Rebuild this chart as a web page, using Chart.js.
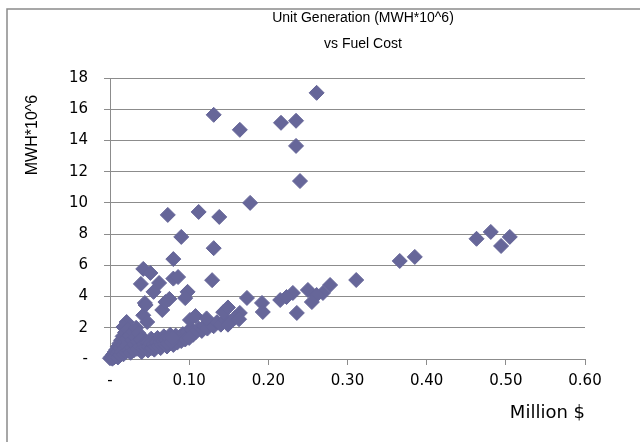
<!DOCTYPE html>
<html lang="en">
<head>
  <meta charset="UTF-8">
  <title>Unit Generation vs Fuel Cost</title>
  <script src="https://cdn.jsdelivr.net/npm/chart.js"></script>
  <style>
    html, body {
      margin: 0;
      padding: 0;
      background: white;
    }
    #wrap {
      width: 640px;
      height: 442px;
      position: relative;
    }
  </style>
</head>
<body>
  <div id="wrap"><canvas id="genChart"></canvas></div>

  <script>
    // fuel cost per unit (million $) and generation (MWH*10^6)
    const fuelCost = [
      // upper branch / outliers
      0.261, 0.131, 0.164, 0.216, 0.235, 0.235, 0.240, 0.177, 0.073, 0.112,
      0.138, 0.090, 0.131, 0.080, 0.129, 0.042, 0.051, 0.062, 0.039, 0.080,
      0.086, 0.098, 0.095, 0.075, 0.044, 0.066, 0.042, 0.047, 0.021, 0.017,
      0.045, 0.070, 0.055,
      // lower branch, right side
      0.173, 0.192, 0.193, 0.164, 0.215, 0.236, 0.231, 0.250, 0.269, 0.278,
      0.223, 0.261, 0.255, 0.311, 0.366, 0.385, 0.463, 0.481, 0.494, 0.505,
      // lower branch, middle
      0.080, 0.083, 0.086, 0.089, 0.092, 0.095, 0.098, 0.101, 0.104, 0.108,
      0.112, 0.116, 0.119, 0.123, 0.127, 0.131, 0.135, 0.140, 0.146, 0.152,
      0.158, 0.163, 0.101, 0.108, 0.122, 0.143, 0.149, 0.149, 0.105,
      0.040, 0.044, 0.048, 0.052, 0.056, 0.060, 0.064, 0.068, 0.072, 0.076,
      0.080, 0.085, 0.090, 0.095, 0.100,
      0.042, 0.046, 0.050, 0.054, 0.058, 0.062, 0.066, 0.070, 0.074, 0.078,
      // small units near the origin
      0.000, 0.002, 0.003, 0.004, 0.005, 0.006, 0.007, 0.008, 0.009, 0.010,
      0.010, 0.011, 0.012, 0.013, 0.013, 0.014, 0.015, 0.016, 0.016, 0.017,
      0.018, 0.018, 0.019, 0.020, 0.021, 0.021, 0.022, 0.023, 0.024, 0.025,
      0.026, 0.027, 0.028, 0.029, 0.030, 0.031, 0.032, 0.033, 0.034, 0.035,
      0.036, 0.038, 0.039, 0.041, 0.043, 0.045, 0.047, 0.049, 0.051, 0.053,
      0.055, 0.057, 0.059, 0.061, 0.063, 0.065, 0.067, 0.069, 0.071, 0.073,
      0.075, 0.077, 0.079
    ];
    const generation = [
      17.05, 15.64, 14.68, 15.13, 15.26, 13.65, 11.40, 10.00, 9.23, 9.42,
      9.10, 7.82, 7.10, 6.40, 5.05, 5.77, 5.51, 4.87, 4.81, 5.15,
      5.25, 4.30, 3.90, 3.85, 3.59, 3.14, 2.80, 2.37, 2.37, 2.05,
      3.46, 3.65, 4.30,
      3.91, 3.59, 3.01, 2.95, 3.78, 2.95, 4.23, 4.42, 4.23, 4.74,
      3.97, 4.10, 3.65, 5.06, 6.28, 6.54, 7.70, 8.14, 7.24, 7.82,
      1.30, 1.50, 1.20, 1.45, 1.60, 1.40, 1.75, 1.55, 1.85, 1.70,
      1.95, 1.80, 2.10, 1.95, 2.25, 2.10, 2.35, 2.20, 2.50, 2.40,
      2.65, 2.55, 2.50, 2.75, 2.60, 3.00, 3.30, 2.20, 1.55,
      0.45, 1.20, 0.55, 1.30, 0.60, 1.35, 0.70, 1.45, 0.80, 1.55,
      0.90, 1.05, 1.15, 1.25, 1.35,
      0.85, 0.90, 0.95, 1.00, 1.05, 1.10, 1.10, 1.15, 1.20, 1.25,
      0.05, 0.15, 0.02, 0.30, 0.10, 0.45, 0.20, 0.60, 0.35, 0.10,
      0.80, 0.50, 1.00, 0.25, 0.70, 1.20, 0.45, 0.90, 1.45, 0.30,
      0.65, 1.10, 1.70, 0.45, 0.85, 1.30, 1.90, 0.55, 1.05, 1.50,
      0.40, 0.75, 1.20, 1.75, 0.55, 0.95, 1.40, 2.00, 0.65, 1.10,
      1.65, 0.80, 1.25, 0.65, 0.95, 0.75, 1.05, 0.80, 1.00, 0.70,
      0.95, 0.80, 1.05, 0.85, 1.10, 0.90, 1.15, 0.95, 1.20, 1.00,
      1.30, 1.10, 1.35
    ];
    const xTicks = [0, 0.1, 0.2, 0.3, 0.4, 0.5, 0.6];
    const yTicks = [0, 2, 4, 6, 8, 10, 12, 14, 16, 18];
    const titleLines = ['Unit Generation (MWH*10^6)', 'vs Fuel Cost'];
    const yTitle = 'MWH*10^6';
    const xTitle = 'Million $';

    const points = fuelCost.map((c, i) => ({ x: c, y: generation[i] }));

    const gridGray = '#8c8c8c';
    const markColor = '#666699';
    const tickFont = { family: 'DejaVu Sans', size: 15 };

    // outer frame, the two-line heading and the left axis caption
    const decorations = {
      id: 'decorations',
      beforeDraw(chart) {
        const ctx = chart.ctx;
        ctx.save();
        ctx.fillStyle = 'white';
        ctx.fillRect(0, 0, chart.width, chart.height);
        ctx.strokeStyle = '#8a8a8a';
        ctx.lineWidth = 1.5;
        ctx.strokeRect(7, 9, chart.width + 10, chart.height + 10);
        ctx.restore();
      },
      afterDraw(chart) {
        const ctx = chart.ctx;
        ctx.save();
        ctx.fillStyle = '#000';
        ctx.textAlign = 'center';
        ctx.textBaseline = 'middle';
        ctx.font = '14px "Liberation Sans", Arial, sans-serif';
        ctx.fillText(titleLines[0], 363, 18);
        ctx.fillText(titleLines[1], 363, 44);
        ctx.translate(33, 135);
        ctx.rotate(-Math.PI / 2);
        ctx.font = '16px "Liberation Sans", Arial, sans-serif';
        ctx.fillText(yTitle, 0, 0);
        ctx.restore();
      }
    };

    const ctx = document.getElementById('genChart').getContext('2d');
    const chart = new Chart(ctx, {
      type: 'scatter',
      data: {
        datasets: [{
          data: points,
          clip: false,
          pointStyle: 'rectRot',
          pointRadius: 7.5,
          pointHoverRadius: 7.5,
          backgroundColor: markColor,
          borderColor: markColor,
          borderWidth: 1
        }]
      },
      plugins: [decorations],
      options: {
        responsive: true,
        maintainAspectRatio: false,
        animation: false,
        layout: { padding: { top: 78, right: 55, left: 0, bottom: 0 } },
        plugins: {
          legend: { display: false },
          tooltip: { enabled: false }
        },
        scales: {
          x: {
            type: 'linear',
            min: 0,
            max: 0.6,
            afterFit: (scale) => { scale.height = 83; },
            afterBuildTicks: (scale) => { scale.ticks = xTicks.map(v => ({ value: v })); },
            border: { display: true, color: gridGray, width: 1 },
            grid: { drawOnChartArea: false, drawTicks: true, tickLength: 6, color: gridGray },
            ticks: {
              color: '#000',
              font: tickFont,
              padding: 7,
              maxRotation: 0,
              callback: (v) => v === 0 ? '-' : v.toFixed(2)
            },
            title: {
              display: true,
              text: xTitle,
              align: 'end',
              color: '#000',
              font: { family: 'DejaVu Sans', size: 18 },
              padding: { top: 0, bottom: 18 }
            }
          },
          y: {
            type: 'linear',
            min: 0,
            max: 18,
            afterFit: (scale) => { scale.width = 110; },
            afterBuildTicks: (scale) => { scale.ticks = yTicks.map(v => ({ value: v })); },
            border: { display: true, color: gridGray, width: 1 },
            grid: { drawTicks: true, tickLength: 6, color: gridGray },
            ticks: {
              color: '#000',
              font: tickFont,
              padding: 16,
              callback: (v) => v === 0 ? '-' : v
            }
          }
        }
      }
    });
  </script>
</body>
</html>
